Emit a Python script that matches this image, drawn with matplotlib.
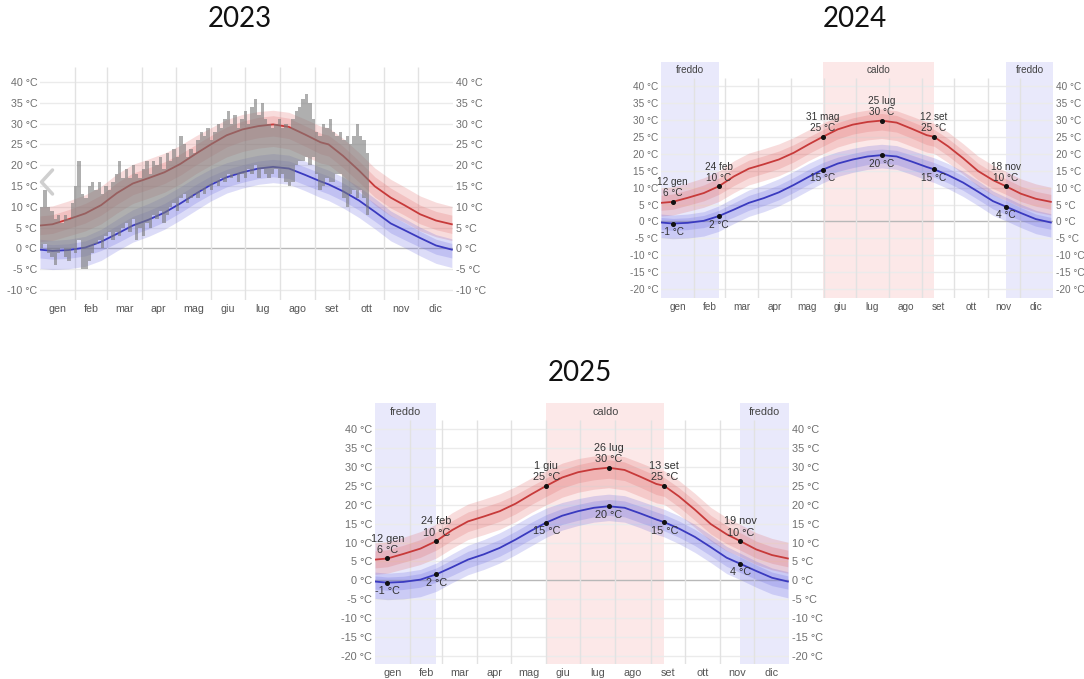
"""Annual temperature climatology panels (2023 with daily observations, 2024, 2025)."""

import calendar

import matplotlib

matplotlib.use("Agg")
import matplotlib.pyplot as plt
from matplotlib.lines import Line2D
from matplotlib.transforms import blended_transform_factory

MONTHS = ["gen", "feb", "mar", "apr", "mag", "giu", "lug", "ago", "set", "ott", "nov", "dic"]

# climatology nodes (0-based day of year) -- avg high / avg low with 10-25-75-90 percentile bands
CLIM_DAY = [0, 11, 25, 40, 54, 68, 82, 96, 110, 124, 138, 151, 165, 179,
            193, 206, 220, 234, 248, 255, 268, 282, 296, 310, 322, 336, 350, 364]
HI_AVG = [5.5, 5.8, 7.0, 8.4, 10.4, 13.3, 15.6, 16.9, 18.3, 20.3, 22.8, 25.0, 27.2, 28.6,
          29.4, 29.8, 29.2, 27.4, 25.5, 25.0, 22.2, 18.7, 14.9, 12.2, 10.4, 8.2, 6.7, 5.8]
HI_P90 = [9.9, 10.2, 11.4, 12.9, 14.9, 17.9, 20.2, 21.5, 22.9, 24.8, 27.1, 29.0, 31.0, 32.2,
          32.9, 33.2, 32.7, 31.1, 29.4, 29.0, 26.4, 23.0, 19.3, 16.6, 14.8, 12.6, 11.1, 10.1]
HI_P75 = [7.8, 8.1, 9.3, 10.8, 12.8, 15.8, 18.1, 19.4, 20.8, 22.7, 25.0, 27.1, 29.2, 30.6,
          31.5, 31.9, 31.3, 29.5, 27.7, 27.2, 24.5, 21.0, 17.2, 14.5, 12.6, 10.4, 8.9, 8.0]
HI_P25 = [3.3, 3.6, 4.8, 6.1, 8.0, 10.6, 12.9, 14.2, 15.6, 17.6, 20.1, 22.2, 24.4, 25.8,
          26.6, 27.0, 26.4, 24.6, 22.7, 22.2, 19.4, 15.9, 12.3, 9.7, 8.0, 5.9, 4.5, 3.6]
HI_P10 = [1.6, 1.9, 3.0, 4.2, 5.9, 8.5, 10.8, 12.1, 13.5, 15.5, 18.0, 20.0, 22.0, 23.3,
          24.1, 24.5, 23.9, 22.2, 20.5, 20.1, 17.4, 14.0, 10.4, 7.8, 6.3, 4.2, 2.8, 1.9]
LO_AVG = [-0.3, -0.6, -0.4, 0.2, 1.6, 3.5, 5.5, 6.9, 8.6, 10.8, 13.2, 15.3, 17.1, 18.3,
          19.2, 19.6, 19.2, 17.7, 16.1, 15.4, 13.7, 11.5, 8.8, 6.0, 4.4, 2.5, 0.7, -0.3]
LO_P90 = [2.2, 1.9, 2.2, 2.9, 4.6, 7.0, 9.3, 10.8, 12.6, 14.8, 17.2, 19.1, 20.6, 21.6,
          22.4, 22.8, 22.4, 21.0, 19.5, 18.8, 17.1, 14.8, 12.0, 9.0, 7.2, 5.1, 3.3, 2.3]
LO_P75 = [1.2, 0.9, 1.1, 1.8, 3.3, 5.5, 7.7, 9.1, 10.8, 13.0, 15.4, 17.4, 19.0, 20.1,
          21.0, 21.4, 21.0, 19.6, 18.1, 17.4, 15.7, 13.5, 10.8, 7.9, 6.2, 4.1, 2.2, 1.2]
LO_P25 = [-2.3, -2.6, -2.4, -1.8, -0.5, 1.3, 3.3, 4.7, 6.4, 8.6, 11.0, 13.0, 14.8, 15.9,
          16.8, 17.2, 16.8, 15.3, 13.8, 13.1, 11.4, 9.2, 6.5, 3.7, 2.1, 0.3, -1.4, -2.3]
LO_P10 = [-4.8, -5.1, -4.9, -4.3, -2.9, -0.6, 1.5, 2.9, 4.6, 6.8, 9.2, 11.4, 13.3, 14.5,
          15.4, 15.8, 15.4, 13.9, 12.2, 11.5, 9.7, 7.4, 4.7, 1.8, 0.2, -1.8, -3.6, -4.6]

# 2023 observed daily range, sampled every 3 days up to mid October
OBS_DAY = list(range(0, 291, 3))
OBS_HI = [10, 14, 10, 9, 7, 8, 6, 8, 7, 11, 15, 21, 13, 12, 15, 16, 14, 16, 13, 15,
          14, 16, 18, 21, 17, 19, 17, 20, 18, 17, 19, 21, 18, 21, 20, 22, 19, 23, 21, 24,
          22, 27, 25, 22, 24, 23, 26, 28, 27, 29, 26, 28, 30, 29, 31, 33, 30, 32, 29, 31,
          33, 30, 34, 36, 32, 35, 31, 30, 29, 30, 31, 29, 30, 29, 31, 33, 34, 36, 37, 35,
          31, 28, 27, 30, 29, 31, 28, 27, 28, 26, 27, 25, 27, 30, 27, 26, 23]
OBS_LO = [0, 1, -1, -2, -4, -1, 0, -2, -3, 0, -1, 2, -5, -5, -3, -1, 1, 2, 0, 3,
          4, 2, 4, 3, 5, 6, 4, 7, 2, 5, 3, 6, 5, 8, 7, 9, 6, 8, 10, 11,
          9, 12, 13, 11, 12, 13, 12, 14, 13, 15, 14, 16, 15, 17, 16, 18, 17, 18, 16, 18,
          17, 19, 18, 20, 17, 19, 18, 17, 18, 19, 17, 18, 16, 15, 16, 20, 21, 21, 22, 20,
          22, 18, 14, 15, 17, 16, 16, 18, 18, 12, 10, 13, 14, 12, 14, 12, 8]

# highlighted days: coldest, end of cold season, start of hot season, hottest, end of hot, start of cold
MARK_DAY = [11, 54, 151, 206, 255, 322]
MARK_DATES = {
    2024: ["12 gen", "24 feb", "31 mag", "25 lug", "12 set", "18 nov"],
    2025: ["12 gen", "24 feb", "1 giu", "26 lug", "13 set", "19 nov"],
}
COLD_SEASON = [(0, 54), (322, None)]
HOT_SEASON = (151, 255)

RED = "#c73a3a"
BLUE = "#3a3abf"
TXT = "#6e6e6e"
W, H = 1084, 679

plt.rcParams["font.family"] = ["Liberation Sans", "DejaVu Sans"]
fig = plt.figure(figsize=(W / 100, H / 100), dpi=100)


def axes_px(left, top, right, bottom):
    return fig.add_axes([left / W, 1 - bottom / H, (right - left) / W, (bottom - top) / H])


def month_edges(year):
    edges = [0]
    for m in range(1, 13):
        edges.append(edges[-1] + calendar.monthrange(year, m)[1])
    return edges


def base_axes(ax, year, ylim, yticks, fs, grid_top=None):
    edges = month_edges(year)
    ax.set_xlim(0, edges[-1])
    ax.set_ylim(*ylim)
    for s in ax.spines.values():
        s.set_visible(False)
    ax.set_yticks(yticks)
    ax.set_yticklabels([f"{t} °C" for t in yticks])
    ax.set_xticks([(a + b) / 2 for a, b in zip(edges[:-1], edges[1:])])
    ax.set_xticklabels(MONTHS)
    ax.tick_params(axis="y", length=0, pad=2, labelsize=fs, labelcolor=TXT, labelleft=True, labelright=True)
    ax.tick_params(axis="x", length=0, pad=3, labelsize=fs, labelcolor="#555555")
    top = grid_top if grid_top is not None else ylim[1]
    for t in yticks:
        ax.plot([0, edges[-1]], [t, t], color="#b8b8b8" if t == 0 else "#ebebeb", lw=1.0, zorder=1)
    ax.vlines(edges[1:-1], ylim[0], top, color="#e2e2e2", lw=1.0, zorder=1)


def climate(ax):
    ax.fill_between(CLIM_DAY, HI_P10, HI_P90, color="#e06262", alpha=0.22, lw=0, zorder=2)
    ax.fill_between(CLIM_DAY, HI_P25, HI_P75, color="#e06262", alpha=0.22, lw=0, zorder=2)
    ax.fill_between(CLIM_DAY, LO_P10, LO_P90, color="#6262e0", alpha=0.22, lw=0, zorder=2)
    ax.fill_between(CLIM_DAY, LO_P25, LO_P75, color="#6262e0", alpha=0.22, lw=0, zorder=2)
    ax.plot(CLIM_DAY, HI_AVG, color=RED, lw=1.3, zorder=4)
    ax.plot(CLIM_DAY, LO_AVG, color=BLUE, lw=1.3, zorder=4)


def seasons(ax, fs):
    end = ax.get_xlim()[1]
    tr = blended_transform_factory(ax.transData, ax.transAxes)
    for a, b in COLD_SEASON:
        b = end if b is None else b
        ax.axvspan(a, b, color="#e9e9fb", lw=0, zorder=0)
        ax.text((a + b) / 2, 0.966, "freddo", transform=tr, ha="center", va="center", fontsize=fs, color="#444444")
    a, b = HOT_SEASON
    ax.axvspan(a, b, color="#fce8e8", lw=0, zorder=0)
    ax.text((a + b) / 2, 0.966, "caldo", transform=tr, ha="center", va="center", fontsize=fs, color="#444444")


def markers(ax, dates, fs):
    for d, label in zip(MARK_DAY, dates):
        i = CLIM_DAY.index(d)
        hi, lo = HI_AVG[i], LO_AVG[i]
        ax.plot([d, d], [hi, lo], ls="none", marker="o", ms=2.6, color="#111111", zorder=5)
        ax.annotate(f"{label}\n{round(hi)} °C", (d, hi), xytext=(0, 2.5), textcoords="offset points",
                    ha="center", va="bottom", fontsize=fs, color="#333333", linespacing=1.15, zorder=6)
        ax.annotate(f"{round(lo)} °C", (d, lo), xytext=(0, -2.5), textcoords="offset points",
                    ha="center", va="top", fontsize=fs, color="#333333", zorder=6)


# 2023: climatology plus observed daily ranges
ax = axes_px(40, 67, 453, 300)
base_axes(ax, 2023, (-12.4, 43.6), list(range(-10, 45, 5)), 7.7)
climate(ax)
ax.bar(OBS_DAY, [h - l for h, l in zip(OBS_HI, OBS_LO)], bottom=OBS_LO, width=3, align="edge",
       color="#7a7a7a", alpha=0.6, lw=0, zorder=5)
fig.add_artist(Line2D([52.5 / W, 41.5 / W, 52.5 / W], [1 - 170 / H, 1 - 182 / H, 1 - 194 / H],
                      color="#cfcfcf", lw=2.5, solid_capstyle="round"))

# 2024 and 2025: climatology with seasons and notable days
for year, box, ylim, fs in [
    (2024, (661, 62, 1053, 298), (-22.6, 47.1), 7.2),
    (2025, (375, 403, 789, 664), (-22.1, 46.9), 7.8),
]:
    ax = axes_px(*box)
    base_axes(ax, year, ylim, list(range(-20, 45, 5)), fs, grid_top=42.4)
    seasons(ax, fs)
    climate(ax)
    markers(ax, MARK_DATES[year], fs)

for x, y, s in [(240, 19, "2023"), (855, 19, "2024"), (580, 373, "2025")]:
    fig.text(x / W, 1 - y / H, s, ha="center", va="center", fontsize=20, family="Lato", color="#111111")

fig.savefig("out.png", dpi=100)
